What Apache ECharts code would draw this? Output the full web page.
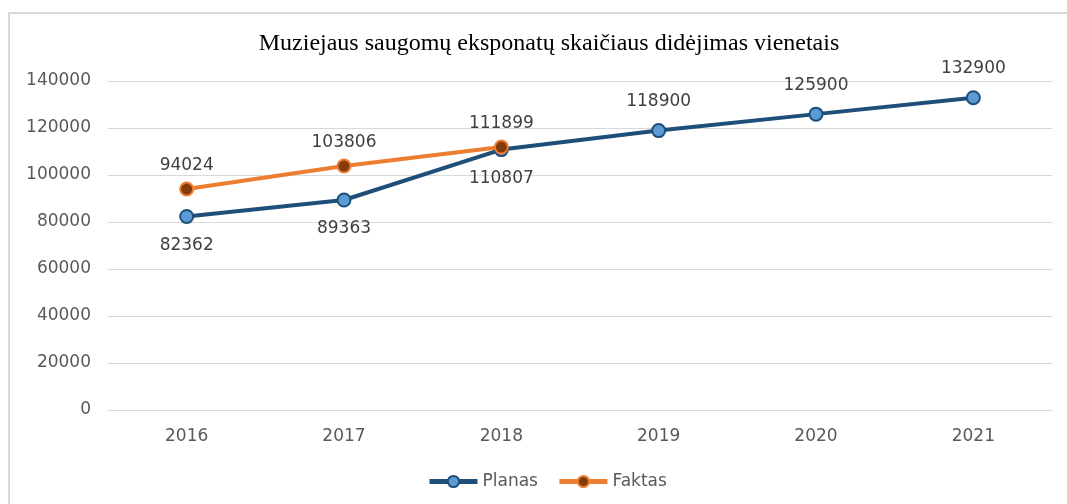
<!DOCTYPE html>
<html>
<head>
<meta charset="utf-8">
<script src="https://cdn.jsdelivr.net/npm/echarts@6/dist/echarts.min.js"></script>
<style>
  html, body { margin: 0; padding: 0; background: #fff; }
  #chart { width: 1067px; height: 504px; }
</style>
</head>
<body>
<div id="chart"></div>
<script>
const years = ['2016', '2017', '2018', '2019', '2020', '2021']
const planas = [82362, 89363, 110807, 118900, 125900, 132900]
const faktas = [94024, 103806, 111899]
// Planas labels go under the point for the first three years
const planasBelow = [true, true, true, false, false, false]

const myChart = echarts.init(document.getElementById('chart'))

const labelFont = {
  fontFamily: 'DejaVu Sans',
  fontSize: 17,
  color: '#404040'
}

const option = {
  backgroundColor: '#fff',
  animation: false,
  graphic: [
    {
      type: 'rect',
      shape: { x: 9, y: 13, width: 1100, height: 520 },
      style: { fill: 'none', stroke: '#d9d9d9', lineWidth: 2 },
      silent: true
    }
  ],
  title: {
    text: 'Muziejaus saugomų eksponatų skaičiaus didėjimas vienetais',
    left: 544,
    textAlign: 'center',
    top: 27,
    textStyle: {
      fontFamily: 'Liberation Serif',
      fontSize: 24,
      fontWeight: 'normal',
      color: '#000'
    }
  },
  legend: {
    bottom: 9,
    left: 422,
    itemWidth: 48,
    itemHeight: 14,
    itemGap: 19,
    lineStyle: { width: 5 },
    textStyle: {
      fontFamily: 'DejaVu Sans',
      fontSize: 17,
      color: '#595959'
    },
    data: ['Planas', 'Faktas']
  },
  grid: {
    left: 108,
    right: 15,
    top: 81,
    bottom: 94
  },
  xAxis: {
    type: 'category',
    data: years,
    axisLine: { show: false },
    axisTick: { show: false },
    axisLabel: {
      margin: 18,
      fontFamily: 'DejaVu Sans',
      fontSize: 17,
      color: '#595959'
    }
  },
  yAxis: {
    type: 'value',
    min: 0,
    max: 140000,
    interval: 20000,
    axisLabel: {
      margin: 17,
      formatter: v => String(v),
      fontFamily: 'DejaVu Sans',
      fontSize: 17,
      color: '#595959'
    },
    splitLine: { lineStyle: { color: '#d9d9d9', width: 1 } }
  },
  series: [
    {
      name: 'Planas',
      type: 'line',
      data: planas.map((v, i) => ({
        value: v,
        label: { position: planasBelow[i] ? 'bottom' : 'top' }
      })),
      symbol: 'circle',
      symbolSize: 13,
      lineStyle: { color: '#1f4e79', width: 4 },
      itemStyle: { color: '#5b9bd5', borderColor: '#1f4e79', borderWidth: 2 },
      label: {
        show: true,
        distance: 13,
        ...labelFont
      },
      z: 2
    },
    {
      name: 'Faktas',
      type: 'line',
      data: faktas,
      symbol: 'circle',
      symbolSize: 13,
      lineStyle: { color: '#ed7d31', width: 4 },
      itemStyle: { color: '#843c0c', borderColor: '#ed7d31', borderWidth: 2 },
      label: {
        show: true,
        position: 'top',
        distance: 7,
        ...labelFont
      },
      z: 3
    }
  ]
}

myChart.setOption(option)

window.addEventListener('resize', () => {
  myChart.resize()
})
</script>
</body>
</html>
